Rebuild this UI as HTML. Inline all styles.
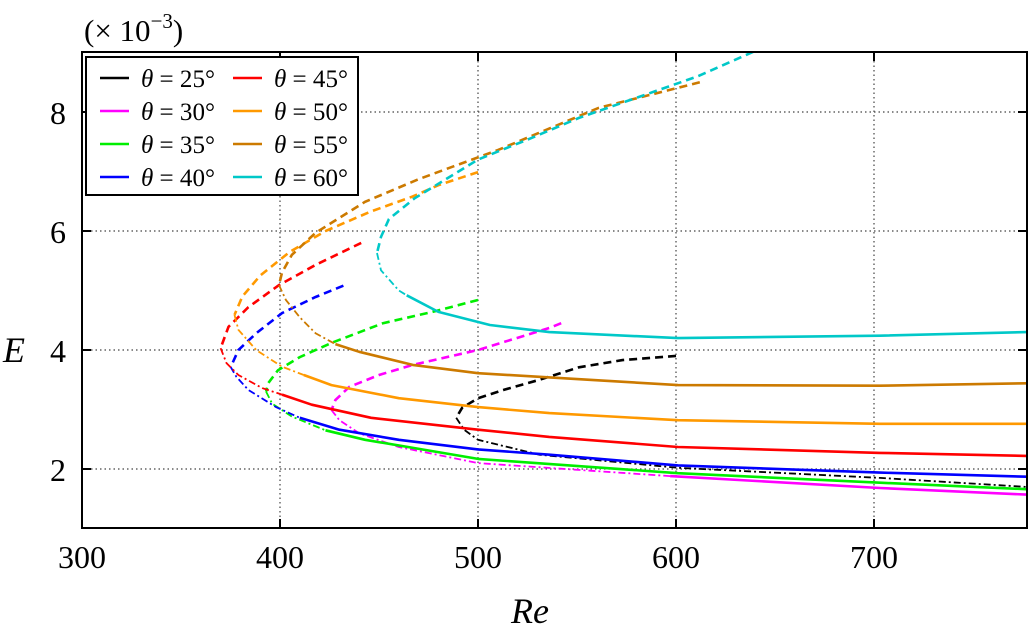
<!DOCTYPE html>
<html><head><meta charset="utf-8"><style>
body{margin:0;background:#fff;}
svg{display:block;font-family:"Liberation Serif",serif;}
</style></head><body>
<svg id="chart" width="1028" height="632" xmlns="http://www.w3.org/2000/svg">
<defs><clipPath id="clip"><rect x="82" y="52" width="945" height="476"/></clipPath></defs>
<g id="grid"></g>
<g id="series" clip-path="url(#clip)"></g>
<rect x="82" y="52" width="945" height="476" fill="none" stroke="#000" stroke-width="2"/>
<g id="ticks"></g>
<text x="84" y="41" font-size="31">(× 10<tspan dy="-13" font-size="21">−3</tspan><tspan dy="13">)</tspan></text>
<text x="530" y="623" font-size="36" font-style="italic" text-anchor="middle">Re</text>
<text x="3" y="362" font-size="36" font-style="italic">E</text>
<g id="legend"></g>
</svg>
<script>
const xTicks=[300,400,500,600,700];
const yTicks=[2,4,6,8];
const names=["θ = 25°","θ = 30°","θ = 35°","θ = 40°","θ = 45°","θ = 50°","θ = 55°","θ = 60°"];
const colors=["#000000","#ff00ff","#00ee00","#0000ff","#ff0000","#ff9900","#cc7a00","#00c8c8"];
// each series: [Re,E] pairs; dashed upper branch (end -> nose), dash-dot, solid
const dashed25=[[600,3.90],[573,3.83],[551,3.71],[531,3.50],[513,3.33],[500,3.19],[492,3.03],[489,2.86]];
const dashdot25=[[489,2.86],[493,2.66],[500,2.49],[531,2.24],[601,2.02],[703,1.85],[777,1.70]];
const solid25=[];
const dashed30=[[542,4.45],[536,4.37],[500,4.0],[467,3.75],[450,3.58],[435,3.38],[428,3.16],[426,2.99]];
const dashdot30=[[426,2.99],[430,2.82],[440,2.6],[460,2.37],[500,2.1],[597,1.88]];
const solid30=[[597,1.88],[703,1.68],[777,1.57]];
const dashed35=[[500,4.84],[477,4.64],[452,4.45],[426,4.12],[410,3.88],[399,3.66],[394,3.44],[393,3.3]];
const dashdot35=[[393,3.3],[396,3.1],[406,2.88],[423,2.65]];
const solid35=[[423,2.65],[443,2.49],[500,2.17],[601,1.93],[703,1.77],[777,1.66]];
const dashed40=[[432,5.08],[418,4.89],[401,4.62],[388,4.28],[379,4.0],[376,3.78],[375,3.72]];
const dashdot40=[[375,3.72],[378,3.55],[384,3.33],[398,3.04],[410,2.86]];
const solid40=[[410,2.86],[430,2.66],[460,2.49],[500,2.33],[536,2.24],[601,2.06],[703,1.94],[777,1.87]];
const dashed45=[[441,5.8],[418,5.43],[399.5,5.09],[384,4.72],[374,4.39],[370,4.03]];
const dashdot45=[[370,4.03],[373,3.78],[379,3.58],[391,3.36],[401,3.25]];
const solid45=[[401,3.25],[416,3.08],[446,2.86],[500,2.66],[536,2.54],[601,2.37],[703,2.27],[777,2.22]];
const dashed50=[[500,6.99],[480,6.77],[467,6.58],[446,6.33],[423,6.0],[405,5.65],[390,5.25],[381,4.9],[377,4.59]];
const dashdot50=[[377,4.59],[379,4.34],[388,4.0],[401,3.72],[412,3.58]];
const solid50=[[412,3.58],[426,3.41],[460,3.19],[500,3.04],[536,2.94],[601,2.82],[703,2.76],[777,2.76]];
const dashed55=[[612,8.5],[561,8.07],[510,7.36],[470,6.87],[443,6.49],[418,5.97],[406,5.6],[401,5.3],[399.5,5.09]];
const dashdot55=[[399.5,5.09],[403,4.84],[410,4.55],[418,4.28],[428,4.1]];
const solid55=[[428,4.1],[440,3.97],[467,3.75],[500,3.61],[601,3.41],[703,3.40],[777,3.44]];
const dashed60=[[645,9.1],[611,8.6],[581,8.25],[551,7.9],[526,7.55],[500,7.2],[468,6.55],[455,6.2],[451,5.9],[449,5.63]];
const dashdot60=[[449,5.63],[451,5.34],[460,5.0],[464,4.92]];
const solid60=[[464,4.92],[480,4.64],[506,4.42],[536,4.3],[601,4.2],[703,4.24],[777,4.3]];
const seriesDashed=[dashed25,dashed30,dashed35,dashed40,dashed45,dashed50,dashed55,dashed60];
const seriesDashdot=[dashdot25,dashdot30,dashdot35,dashdot40,dashdot45,dashdot50,dashdot55,dashdot60];
const seriesSolid=[solid25,solid30,solid35,solid40,solid45,solid50,solid55,solid60];

const NS="http://www.w3.org/2000/svg";
function sx(v){return 82+(v-300)*1.98;}
function sy(v){return 469-(v-2)*59.5;}
function mk(t,a,p){const e=document.createElementNS(NS,t);for(const k in a)e.setAttribute(k,a[k]);p.appendChild(e);return e;}
const grid=document.getElementById('grid'),ticks=document.getElementById('ticks'),ser=document.getElementById('series'),leg=document.getElementById('legend');
xTicks.forEach(v=>{
  const x=sx(v);
  if(v>300){const g=mk('line',{x1:x,x2:x,y1:52,y2:528,stroke:'#444','stroke-width':1.2,'stroke-dasharray':'1.5,3'},grid);
  
  }
  mk('line',{x1:x,x2:x,y1:528,y2:519,stroke:'#000','stroke-width':2},ticks);
  mk('line',{x1:x,x2:x,y1:52,y2:61,stroke:'#000','stroke-width':2},ticks);
  const t=mk('text',{x:x,y:568,'font-size':32,'text-anchor':'middle'},ticks);t.textContent=v;
  
  
});
yTicks.forEach(v=>{
  const y=sy(v);
  const g=mk('line',{x1:82,x2:1027,y1:y,y2:y,stroke:'#444','stroke-width':1.2,'stroke-dasharray':'1.5,3'},grid);
  
  
  mk('line',{x1:82,x2:91,y1:y,y2:y,stroke:'#000','stroke-width':2},ticks);
  mk('line',{x1:1018,x2:1027,y1:y,y2:y,stroke:'#000','stroke-width':2},ticks);
  const t=mk('text',{x:66,y:y+12,'font-size':32,'text-anchor':'end'},ticks);t.textContent=v;
  
  
});
function pts(a){return a.map(p=>sx(p[0]).toFixed(1)+','+sy(p[1]).toFixed(1)).join(' ');}
for(let i=0;i<8;i++){
  const c=colors[i];
  if(seriesSolid[i].length){const s=mk('polyline',{points:pts(seriesSolid[i]),fill:'none',stroke:c,'stroke-width':2.6,'stroke-linejoin':'round'},ser);
  
  }
  const d=mk('polyline',{points:pts(seriesDashdot[i]),fill:'none',stroke:c,'stroke-width':1.8,'stroke-dasharray':'7,3,2,3'},ser);
  
  
  const e=mk('polyline',{points:pts(seriesDashed[i]),fill:'none',stroke:c,'stroke-width':2.6,'stroke-dasharray':'8,5'},ser);
  
  
}
const box=mk('rect',{x:86,y:57,width:272,height:138,fill:'#fff',stroke:'#000','stroke-width':2},leg);


for(let i=0;i<8;i++){
  const col=Math.floor(i/4),row=i%4;
  const lx=col?233:100,y=78+row*33;
  const g=mk('g',{},leg);
  
  
  mk('line',{x1:lx,x2:lx+29,y1:y,y2:y,stroke:colors[i],'stroke-width':2.5},g);
  const t=mk('text',{x:lx+41,y:y+9,'font-size':25,textLength:74,lengthAdjust:'spacingAndGlyphs'},g);
  const parts=names[i].split(' = ');
  const a=mk('tspan',{'font-style':'italic'},t);a.textContent='θ';
  const b=mk('tspan',{},t);b.textContent=' = '+parts[1];
}
</script>
</body></html>
